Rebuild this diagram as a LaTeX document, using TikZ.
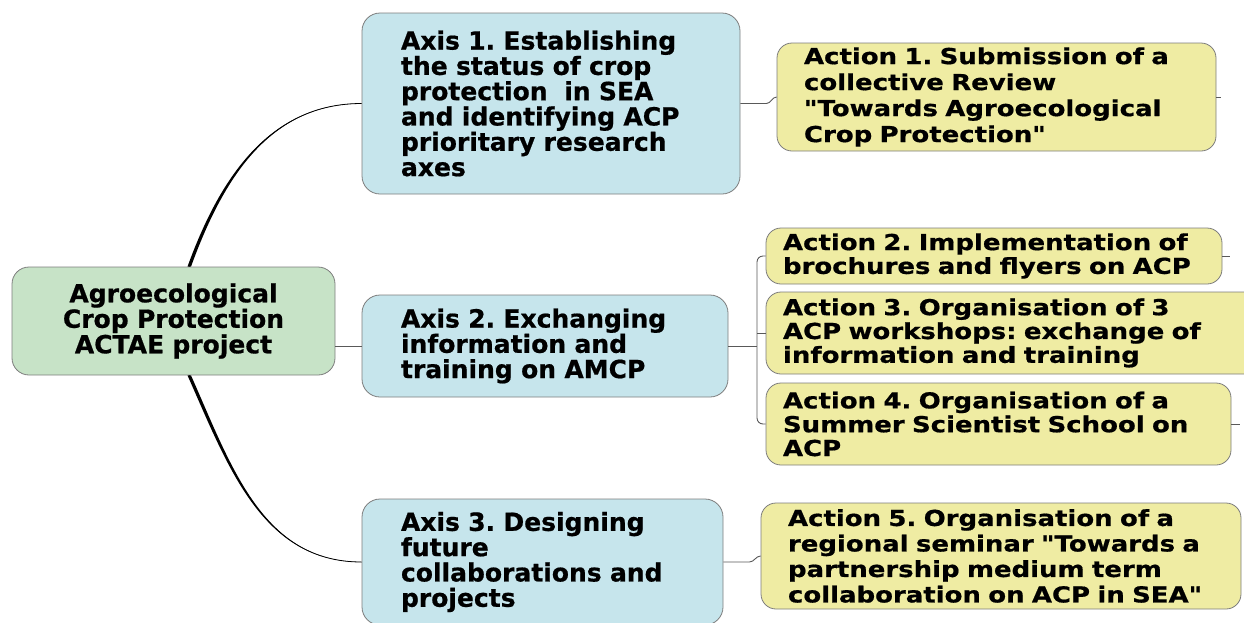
\documentclass[tikz,border=0pt]{standalone}
\usepackage{fontspec}
\setmainfont{DejaVu Sans}[BoldFeatures={FakeBold=0.7}]
\newfontfamily\widefont{DejaVu Sans}[FakeStretch=1.18, BoldFeatures={FakeBold=0.7}]
\frenchspacing
\definecolor{AxisBlue}{RGB}{198,229,236}
\definecolor{RootGreen}{RGB}{199,227,199}
\definecolor{ActionYellow}{RGB}{239,236,163}
\definecolor{Edge}{RGB}{125,125,125}
\begin{document}
\begin{tikzpicture}[x=1pt,y=1pt]
			\tikzstyle{Box}		= [rectangle, draw=Edge, line width=0.8pt, inner ysep=0pt, text=black]
			\tikzstyle{Root}	= [Box, fill=RootGreen, rounded corners=17pt, align=center, inner xsep=10pt, font=\fontsize{25}{25.5}\selectfont\bfseries]
			\tikzstyle{Axis}	= [Box, fill=AxisBlue, rounded corners=18pt, align=left, inner xsep=39pt, font=\fontsize{25}{25.3}\selectfont\bfseries]
			\tikzstyle{Action}	= [Box, fill=ActionYellow, rounded corners=15pt, align=left, inner xsep=17pt, font=\widefont\bfseries\fontsize{22}{23.8}\selectfont]
			\tikzstyle{Spoke}	= [black]
			\tikzstyle{Link}	= [draw=black!65, line width=0.9pt]

			\useasboundingbox (0,0) rectangle (1244,-622);

			\node (root) at (173.5,-321) [Root][text width=303pt, minimum height=108pt] {Agroecological\\Crop Protection\\ACTAE project};

			\node (ax1) at (551,-103.5) [Axis][text width=300pt, minimum height=181pt] {Axis 1. Establishing\\the status of crop\\protection~ in SEA\\and identifying ACP\\prioritary research\\axes};
			\node (ax2) at (545,-346) [Axis][text width=288pt, minimum height=102pt] {Axis 2. Exchanging\\information and\\training on AMCP};
			\node (ax3) at (542.5,-562) [Axis][text width=283pt, minimum height=126pt] {Axis 3. Designing\\future\\collaborations and\\projects};

			\node (act1) at (996.5,-97) [Action][inner xsep=27pt, text width=385pt, minimum height=108pt, font=\widefont\bfseries\fontsize{22}{26}\selectfont] {Action 1. Submission of a\\collective Review\\"Towards Agroecological\\Crop Protection"};
			\node (act2) at (994,-256) [Action][text width=422pt, minimum height=56pt] {Action 2. Implementation of\\brochures and flyers on ACP};
			\node (act3) at (1013,-333) [Action][text width=460pt, minimum height=82pt] {Action 3. Organisation of 3\\ACP workshops: exchange of\\information and training};
			\node (act4) at (998.5,-424) [Action][text width=431pt, minimum height=82pt] {Action 4. Organisation of a\\Summer Scientist School on\\ACP};
			\node (act5) at (1001,-556) [Action][inner xsep=27pt, text width=426pt, minimum height=106pt, font=\widefont\bfseries\fontsize{22}{25.5}\selectfont] {Action 5. Organisation of a\\regional seminar "Towards a\\partnership medium term\\collaboration on ACP in SEA"};

			\coordinate (hub) at (757,-346);

			\fill [Spoke] ([xshift=14pt]root.north) to[out=70,in=180] (ax1.west) to[out=180,in=70] ([xshift=17.5pt]root.north) -- cycle;
			\draw [Spoke, line width=0.8pt] ([xshift=15.7pt]root.north) to[out=70,in=180] (ax1.west);
			\fill [Spoke] ([xshift=14pt]root.south) to[out=-66,in=180] (ax3.west) to[out=180,in=-66] ([xshift=17.5pt]root.south) -- cycle;
			\draw [Spoke, line width=0.8pt] ([xshift=15.7pt]root.south) to[out=-66,in=180] (ax3.west);
			\draw [Link] (ax2.west) -- (ax2.west -| root.east);

			\draw [Link] (ax1.east) -- ++(26,0) to[out=0,in=180] (act1.west);
			\draw [Link] (ax2.east) -- (hub);
			\draw [Link, rounded corners=6pt] (act2.west) -| (hub) |- (act4.west);
			\draw [Link] (hub |- act3.west) -- (act3.west);
			\draw [Link] (ax3.east) -- ++(26,0) to[out=0,in=180] (act5.west);

			\draw [Link] (act1.east) -- ++(5,0);
			\draw [Link] (act2.east) -- ++(8,0);
			\draw [Link] (act4.east) -- ++(9,0);
		\end{tikzpicture}
\end{document}
